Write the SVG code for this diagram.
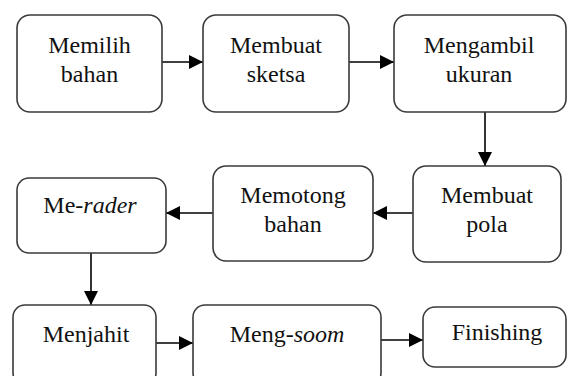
<svg xmlns="http://www.w3.org/2000/svg" width="568" height="376" viewBox="0 0 568 376">
<style>
.box{fill:#fff;stroke:#3a3a3a;stroke-width:1.6}
.t{font-size:24px;fill:#111;text-anchor:middle}
.c{stroke:#000;stroke-width:1.6;fill:none;marker-end:url(#ah)}
</style>
<defs>
<marker id="ah" viewBox="0 0 14 14" refX="14" refY="7" markerWidth="14" markerHeight="14" markerUnits="userSpaceOnUse" orient="auto">
<path d="M0,0 L14,7 L0,14 Z" fill="#000"/>
</marker>
</defs>
<rect width="568" height="376" fill="#fff"/>
<g id="connectors">
<line class="c" x1="162" y1="62" x2="203" y2="62"/>
<line class="c" x1="349" y1="62" x2="394" y2="62"/>
<line class="c" x1="485" y1="112" x2="485" y2="166"/>
<line class="c" x1="413" y1="213" x2="373" y2="213"/>
<line class="c" x1="213" y1="213" x2="166" y2="213"/>
<line class="c" x1="91" y1="253" x2="91" y2="305"/>
<line class="c" x1="156" y1="343" x2="193" y2="343"/>
<line class="c" x1="381" y1="340" x2="423" y2="340"/>
</g>
<g font-family="Liberation Serif, Times New Roman, DejaVu Serif, serif">
<g id="memilih-bahan">
<rect class="box" x="17" y="15" width="145" height="97" rx="13"/>
<text class="t" x="89.5" y="53">Memilih</text>
<text class="t" x="89.5" y="82">bahan</text>
</g>
<g id="membuat-sketsa">
<rect class="box" x="203" y="15" width="146" height="97" rx="13"/>
<text class="t" x="276" y="53">Membuat</text>
<text class="t" x="276" y="82">sketsa</text>
</g>
<g id="mengambil-ukuran">
<rect class="box" x="394" y="15" width="172" height="97" rx="13"/>
<text class="t" x="479" y="53">Mengambil</text>
<text class="t" x="479" y="82">ukuran</text>
</g>
<g id="membuat-pola">
<rect class="box" x="413" y="166" width="148" height="96" rx="13"/>
<text class="t" x="487" y="203">Membuat</text>
<text class="t" x="487" y="232">pola</text>
</g>
<g id="memotong-bahan">
<rect class="box" x="213" y="166" width="160" height="95" rx="13"/>
<text class="t" x="293" y="203">Memotong</text>
<text class="t" x="293" y="232">bahan</text>
</g>
<g id="me-rader">
<rect class="box" x="17" y="178" width="149" height="75" rx="12"/>
<text class="t" x="90" y="213">Me-<tspan font-style="italic">rader</tspan></text>
</g>
<g id="menjahit">
<rect class="box" x="13" y="305" width="143" height="80" rx="12"/>
<text class="t" x="86" y="342">Menjahit</text>
</g>
<g id="meng-soom">
<rect class="box" x="193" y="305" width="188" height="80" rx="12"/>
<text class="t" x="287" y="342">Meng-<tspan font-style="italic">soom</tspan></text>
</g>
<g id="finishing">
<rect class="box" x="423" y="307" width="143" height="60" rx="12"/>
<text class="t" x="497" y="340">Finishing</text>
</g>
</g>
</svg>
